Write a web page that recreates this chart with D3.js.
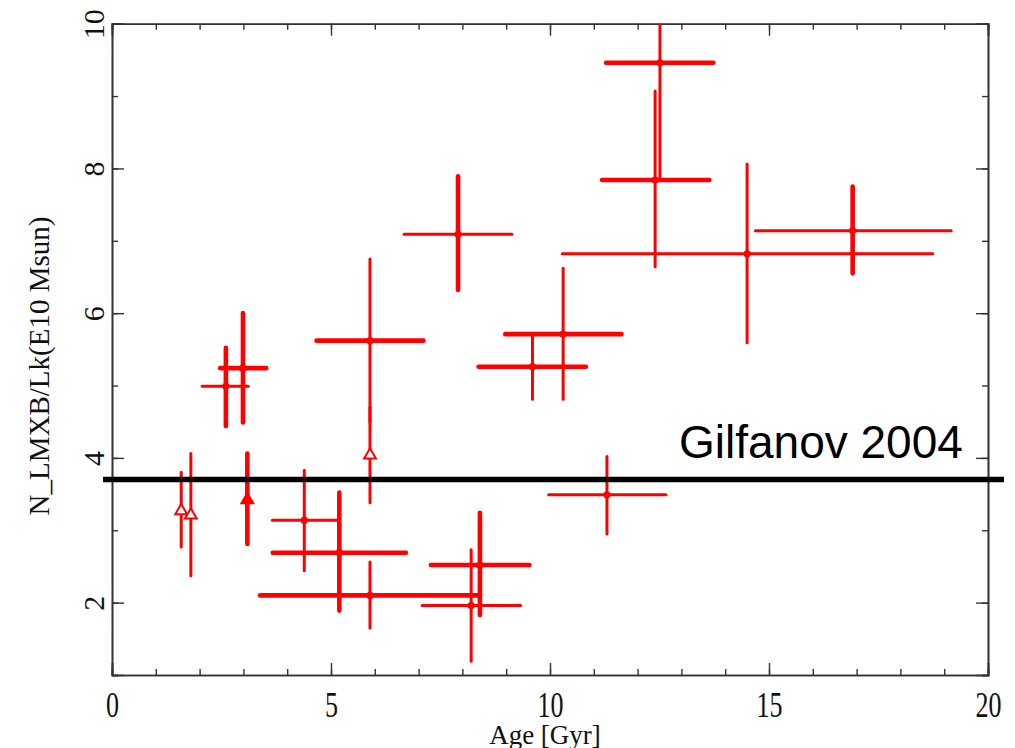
<!DOCTYPE html>
<html><head><meta charset="utf-8">
<script src="https://cdn.jsdelivr.net/npm/d3@7"></script>
<style>body{margin:0;background:#fff}svg{display:block}</style>
</head><body>
<svg id="chart" width="1015" height="748"></svg>
<script>
// ---- data ----
const age      = [1.58, 1.80, 2.60, 2.99, 3.09, 5.89, 5.89, 4.39, 5.19, 5.89, 7.90, 9.60, 10.30, 11.30, 8.40, 8.20, 12.51, 12.40, 14.50, 16.91];
const ageLo    = [1.58, 1.80, 2.06, 2.47, 3.09, 4.67, 5.89, 3.66, 3.67, 3.38, 6.67, 8.37, 8.98, 9.97, 7.28, 7.08, 11.28, 11.19, 10.28, 14.69];
const ageHi    = [1.58, 1.80, 3.11, 3.52, 3.09, 7.11, 5.89, 5.14, 6.71, 8.40, 9.13, 10.82, 11.63, 12.65, 9.53, 9.33, 13.73, 13.64, 18.74, 19.16];
const nRatio   = [3.27, 3.21, 4.99, 5.24, 3.42, 5.62, 4.04, 3.14, 2.69, 2.10, 7.09, 5.26, 5.71, 3.49, 2.52, 1.96, 9.46, 7.84, 6.82, 7.14];
const nRatioLo = [2.77, 2.37, 4.44, 4.49, 2.81, 4.49, 3.38, 2.44, 1.89, 1.65, 6.32, 4.81, 4.81, 2.95, 1.83, 1.19, 7.84, 6.64, 5.59, 6.55];
const nRatioHi = [3.80, 4.06, 5.52, 6.00, 4.06, 6.75, 4.70, 3.83, 3.52, 2.56, 7.89, 5.69, 6.62, 4.02, 3.24, 2.73, 11.08, 9.07, 8.06, 7.75];
const ageBarThick   = [0, 0, 0, 1, 0, 1, 0, 0, 1, 1, 0, 1, 1, 0, 1, 0, 1, 1, 0, 0];
const ratioBarThick = [0, 0, 1, 1, 1, 0, 0, 0, 1, 0, 1, 0, 0, 0, 1, 0, 0, 0, 0, 1];
const markerType = ["tri","tri","dot","dot","trifill","dot","tri","dot","dot","dot","dot","dot","dot","dot","dot","dot","dot","dot","dot","dot"];
const xTickMajor = [0, 5, 10, 15, 20];
const xTickMinor = d3.range(0, 21, 1);
const yTickMajor = [2, 4, 6, 8, 10];
const yTickMinor = d3.range(1, 11, 1);
const refLevel = 3.7;
const refLabel = "Gilfanov 2004";
const xTitle = "Age [Gyr]";
const yTitle = "N_LMXB/Lk(E10 Msun)";

// ---- layout ----
const L = 112, R = 988, T = 23.7, B = 675;
const svg = d3.select("#chart");
const x = d3.scaleLinear().domain([0, 20]).range([L, R]);
const y = d3.scaleLinear().domain([1, 10]).range([B, T]);
const axisColor = "#333";
const serif = "'Liberation Serif','Times New Roman',serif";

svg.append("defs").append("clipPath").attr("id","plotclip")
  .append("rect").attr("x", L).attr("y", T).attr("width", R-L).attr("height", B-T);

// axes (ticks point inward)
function styleAxis(g){
  g.select(".domain").attr("stroke", axisColor).attr("stroke-width", 1.6);
  g.selectAll(".tick line").attr("stroke", axisColor).attr("stroke-width", 1.4);
}
const major = 12, minor = 6;
[[d3.axisBottom, B, true],[d3.axisTop, T, false]].forEach(([fn, ypos, lab]) => {
  const gm = svg.append("g").attr("transform",`translate(0,${ypos})`)
    .call(fn(x).tickValues(xTickMinor).tickSize(-minor).tickFormat(""));
  styleAxis(gm);
  const gM = svg.append("g").attr("transform",`translate(0,${ypos})`)
    .call(fn(x).tickValues(xTickMajor).tickSize(-major).tickFormat(lab ? d3.format("d") : ""));
  styleAxis(gM);
  if (lab) {
    gM.selectAll(".tick text").attr("font-family", serif)
      .attr("font-size", 26).attr("fill","#111").attr("dy", null).attr("y", null)
      .attr("transform","translate(0,42) scale(1,1.38)");
  }
});
[[d3.axisLeft, L, true],[d3.axisRight, R, false]].forEach(([fn, xpos, lab]) => {
  const gm = svg.append("g").attr("transform",`translate(${xpos},0)`)
    .call(fn(y).tickValues(yTickMinor).tickSize(-minor).tickFormat(""));
  styleAxis(gm);
  const gM = svg.append("g").attr("transform",`translate(${xpos},0)`)
    .call(fn(y).tickValues(yTickMajor).tickSize(-major).tickFormat(lab ? d3.format("d") : ""));
  styleAxis(gM);
  if (lab) {
    gM.selectAll(".tick text").attr("font-family", serif)
      .attr("font-size", 30).attr("fill","#111").attr("dy", null).attr("x", null)
      .attr("text-anchor","middle").attr("transform","translate(-8,0) rotate(-90)");
  }
});

// axis titles
svg.append("text").attr("transform","translate(545,744)")
  .attr("text-anchor","middle").attr("font-family", serif)
  .attr("font-size", 27).attr("fill","#111").text(xTitle);
svg.append("text").attr("transform","translate(49,366) rotate(-90)")
  .attr("text-anchor","middle").attr("font-family", serif)
  .attr("font-size", 29).attr("fill","#111").text(yTitle);

// error bars
const plot = svg.append("g").attr("clip-path","url(#plotclip)");
const idx = d3.range(age.length);
const red = "#ff0000";
plot.selectAll("line.hbar").data(idx.filter(i => ageHi[i] > ageLo[i])).join("line")
  .attr("x1", i => x(ageLo[i])).attr("x2", i => x(ageHi[i]))
  .attr("y1", i => y(nRatio[i])).attr("y2", i => y(nRatio[i]))
  .attr("stroke", red).attr("stroke-linecap","round")
  .attr("stroke-width", i => ageBarThick[i] ? 4.6 : 3);
plot.selectAll("line.vbar").data(idx).join("line")
  .attr("x1", i => x(age[i])).attr("x2", i => x(age[i]))
  .attr("y1", i => y(nRatioLo[i])).attr("y2", i => y(nRatioHi[i]))
  .attr("stroke", red).attr("stroke-linecap","round")
  .attr("stroke-width", i => ratioBarThick[i] ? 4.6 : 3);
// markers
plot.selectAll("circle.pt").data(idx.filter(i => markerType[i] === "dot")).join("circle")
  .attr("cx", i => x(age[i])).attr("cy", i => y(nRatio[i])).attr("r", 3.6).attr("fill", red);
const tri = d3.symbol().type(d3.symbolTriangle).size(60);
plot.selectAll("path.tri").data(idx.filter(i => markerType[i] !== "dot")).join("path")
  .attr("transform", i => `translate(${x(age[i])},${y(nRatio[i])})`)
  .attr("d", tri).attr("fill", i => markerType[i] === "trifill" ? red : "#fff")
  .attr("stroke", red).attr("stroke-width", 2);

// reference line
svg.append("line").attr("x1", 103).attr("x2", 1004)
  .attr("y1", y(refLevel)).attr("y2", y(refLevel))
  .attr("stroke", "#000").attr("stroke-width", 5.5);
svg.append("text").attr("x", 679).attr("y", 458)
  .attr("font-family","'Liberation Sans',Arial,sans-serif").attr("font-size", 46)
  .attr("fill","#000").text(refLabel);
</script>
</body></html>
